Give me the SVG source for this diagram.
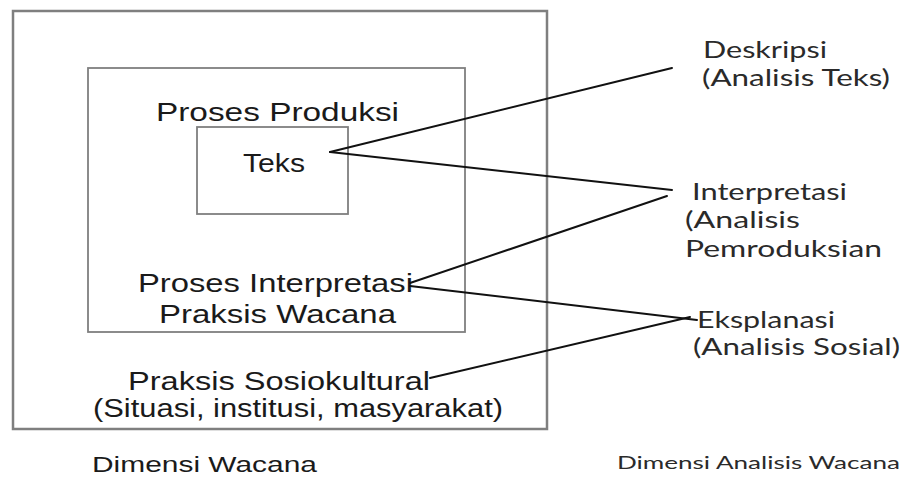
<svg xmlns="http://www.w3.org/2000/svg" width="907" height="478" viewBox="0 0 907 478">
<style>
.box{fill:none;stroke:#7f7f7f}
.l{font-family:"Liberation Sans",Arial,sans-serif;font-size:25px;fill:#1a1a1a}
.r{font-family:Lato,"Open Sans",sans-serif;font-size:23px;fill:#2a2a2a}
.c line{stroke:#111;stroke-width:2;stroke-linecap:round}
</style>
<rect x="0" y="0" width="907" height="478" fill="#fff"/>
<g id="outer">
<rect class="box" x="13" y="11" width="534" height="418" stroke-width="2.5"/>
<text class="l" x="128" y="390" textLength="302" lengthAdjust="spacingAndGlyphs">Praksis Sosiokultural</text>
<text class="l" x="93" y="417" textLength="410" lengthAdjust="spacingAndGlyphs">(Situasi, institusi, masyarakat)</text>
</g>
<g id="middle">
<rect class="box" x="88" y="68" width="377" height="264" stroke-width="1.8"/>
<text class="l" x="156" y="121" textLength="243" lengthAdjust="spacingAndGlyphs">Proses Produksi</text>
<text class="l" x="138" y="292" textLength="275" lengthAdjust="spacingAndGlyphs">Proses Interpretasi</text>
<text class="l" x="159" y="323" textLength="237" lengthAdjust="spacingAndGlyphs">Praksis Wacana</text>
</g>
<g id="teks">
<rect class="box" x="197" y="127" width="151" height="87" stroke-width="1.8"/>
<text class="l" x="243" y="172" textLength="62" lengthAdjust="spacingAndGlyphs">Teks</text>
</g>
<g id="deskripsi">
<text class="r" x="703" y="58" textLength="124" lengthAdjust="spacingAndGlyphs">Deskripsi</text>
<text class="r" x="702" y="86" textLength="188" lengthAdjust="spacingAndGlyphs">(Analisis Teks)</text>
</g>
<g id="interpretasi">
<text class="r" x="692" y="200" textLength="155" lengthAdjust="spacingAndGlyphs">Interpretasi</text>
<text class="r" x="685" y="228" textLength="115" lengthAdjust="spacingAndGlyphs">(Analisis</text>
<text class="r" x="685" y="257" textLength="197" lengthAdjust="spacingAndGlyphs">Pemroduksian</text>
</g>
<g id="eksplanasi">
<text class="r" x="697" y="328" textLength="138" lengthAdjust="spacingAndGlyphs">Eksplanasi</text>
<text class="r" x="693" y="355" textLength="207" lengthAdjust="spacingAndGlyphs">(Analisis Sosial)</text>
</g>
<g id="dimensi-wacana">
<text class="l" x="92" y="472" textLength="225" lengthAdjust="spacingAndGlyphs" style="font-size:22px">Dimensi Wacana</text>
</g>
<g id="dimensi-analisis">
<text class="r" x="617" y="469" textLength="283" lengthAdjust="spacingAndGlyphs" style="font-size:18px">Dimensi Analisis Wacana</text>
</g>
<g id="connectors" class="c">
<line x1="330" y1="152" x2="672" y2="68"/>
<line x1="330" y1="152" x2="672" y2="190"/>
<line x1="410" y1="283" x2="667" y2="196"/>
<line x1="410" y1="286" x2="697" y2="320"/>
<line x1="430" y1="378" x2="690" y2="317"/>
</g>
</svg>
